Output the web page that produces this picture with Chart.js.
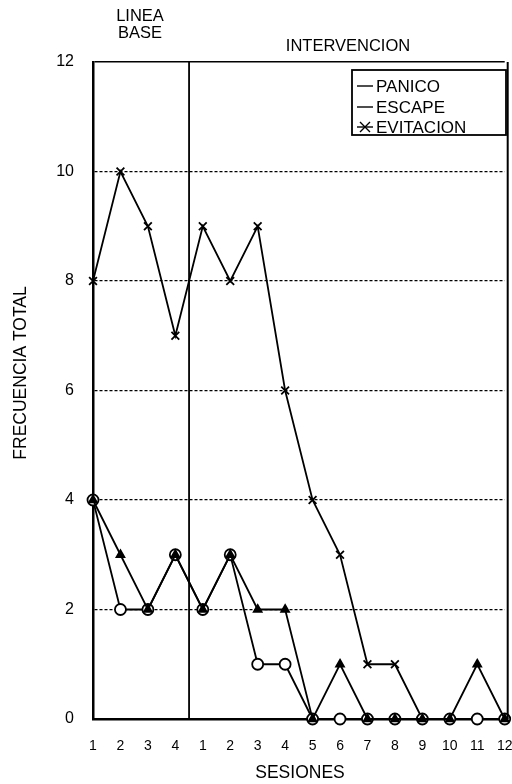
<!DOCTYPE html>
<html>
<head>
<meta charset="utf-8">
<script src="https://cdn.jsdelivr.net/npm/chart.js@4/dist/chart.umd.min.js"></script>
<style>
  html, body { margin: 0; padding: 0; background: #fff; }
  #wrap { width: 512px; height: 784px; }
</style>
</head>
<body>
<div id="wrap"><canvas id="chart" width="512" height="784"></canvas></div>
<script>
// sesiones: 4 de linea base + 12 de intervencion
const sessionLabels = ["1", "2", "3", "4", "1", "2", "3", "4", "5", "6", "7", "8", "9", "10", "11", "12"];
const panico = [4, 2, 2, 3, 2, 3, 1, 1, 0, 0, 0, 0, 0, 0, 0, 0];
const escape = [4, 3, 2, 3, 2, 3, 2, 2, 0, 1, 0, 0, 0, 0, 1, 0];
const evitacion = [8, 10, 9, 7, 9, 8, 9, 6, 4, 3, 1, 1, 0, 0, 0, 0];
const yTicks = [0, 2, 4, 6, 8, 10, 12];
const baselineCount = 4;

const FONT = "'Liberation Sans', Arial, sans-serif";

/* extra drawing: phase line, right border, phase titles, axis titles, legend */
const extras = {
	id: "extras",
	afterDatasetsDraw(chart) {
		const ctx = chart.ctx;
		const area = chart.chartArea;
		const x = chart.scales.x;
		ctx.save();
		ctx.strokeStyle = "#000";
		ctx.fillStyle = "#000";

		// phase change line
		const phaseX = (x.getPixelForValue(baselineCount - 1) + x.getPixelForValue(baselineCount)) / 2;
		ctx.lineWidth = 1.8;
		ctx.beginPath();
		ctx.moveTo(phaseX, area.top);
		ctx.lineTo(phaseX, area.bottom);
		ctx.stroke();

		// right border
		ctx.lineWidth = 2;
		ctx.beginPath();
		ctx.moveTo(area.right + 3, area.top);
		ctx.lineTo(area.right + 3, area.bottom);
		ctx.stroke();

		// phase titles
		ctx.textAlign = "center";
		ctx.textBaseline = "middle";
		ctx.font = "16.5px " + FONT;
		ctx.fillText("LINEA", 140, 16);
		ctx.fillText("BASE", 140, 33);
		ctx.fillText("INTERVENCION", 348, 46);

		// axis titles
		ctx.font = "17.5px " + FONT;
		ctx.fillText("SESIONES", 300, 773);
		ctx.save();
		ctx.translate(21, 373);
		ctx.rotate(-Math.PI / 2);
		ctx.fillText("FRECUENCIA TOTAL", 0, 0);
		ctx.restore();

		// legend box
		const lx = 352, ly = 70, lw = 154, lh = 65;
		ctx.fillStyle = "#fff";
		ctx.fillRect(lx, ly, lw, lh);
		ctx.fillStyle = "#000";
		ctx.lineWidth = 1.8;
		ctx.strokeRect(lx, ly, lw, lh);
		ctx.textAlign = "left";
		ctx.font = "17px " + FONT;
		const rows = [["PANICO", 86], ["ESCAPE", 107], ["EVITACION", 127]];
		rows.forEach(([label, ry], i) => {
			ctx.lineWidth = 1.4;
			ctx.beginPath();
			ctx.moveTo(lx + 5, ry);
			ctx.lineTo(lx + 21, ry);
			ctx.stroke();
			if (i === 2) {
				ctx.beginPath();
				ctx.moveTo(lx + 8, ry - 5);
				ctx.lineTo(lx + 18, ry + 5);
				ctx.moveTo(lx + 18, ry - 5);
				ctx.lineTo(lx + 8, ry + 5);
				ctx.stroke();
			}
			ctx.fillText(label, lx + 24, ry + 1);
		});
		ctx.restore();
	}
};

new Chart(document.getElementById("chart"), {
	type: "line",
	data: {
		labels: sessionLabels,
		datasets: [
			{
				label: "PANICO",
				data: panico,
				borderColor: "#000",
				borderWidth: 1.8,
				pointStyle: "circle",
				pointRadius: 5.5,
				pointBorderWidth: 1.8,
				pointBackgroundColor: "#fff",
				pointBorderColor: "#000",
				tension: 0,
				clip: false,
				order: 1
			},
			{
				label: "ESCAPE",
				data: escape,
				borderColor: "#000",
				borderWidth: 1.8,
				pointStyle: "triangle",
				pointRadius: 4.5,
				pointBackgroundColor: "#000",
				pointBorderColor: "#000",
				tension: 0,
				clip: false,
				order: 0
			},
			{
				label: "EVITACION",
				data: evitacion,
				borderColor: "#000",
				borderWidth: 1.8,
				pointStyle: "crossRot",
				pointRadius: 5.5,
				pointBorderWidth: 1.8,
				pointBorderColor: "#000",
				tension: 0,
				clip: false,
				order: 2
			}
		]
	},
	options: {
		responsive: false,
		animation: false,
		layout: { padding: { top: 62, right: 7, left: 0, bottom: 0 } },
		plugins: {
			legend: { display: false },
			tooltip: { enabled: false }
		},
		scales: {
			x: {
				offset: false,
				grid: { display: false, drawTicks: false },
				border: { color: "#000", width: 2.5 },
				ticks: {
					color: "#000",
					font: { family: FONT, size: 14 },
					padding: 19,
					maxRotation: 0,
					autoSkip: false
				},
				afterFit(scale) {
					scale.height = 65;
					scale.paddingLeft = 0;
					scale.paddingRight = 0;
				}
			},
			y: {
				min: 0,
				max: 12,
				afterBuildTicks(scale) { scale.ticks = yTicks.map(v => ({ value: v })); },
				grid: {
					color: "#000",
					lineWidth: ctx => (ctx.tick && ctx.tick.value === 12 ? 1.5 : 1.3),
					drawTicks: false
				},
				border: {
					color: "#000",
					width: 2.5,
					dash: ctx => (ctx.tick && ctx.tick.value === 12 ? [] : [3, 2])
				},
				ticks: {
					color: "#000",
					font: { family: FONT, size: 16 },
					padding: 19
				},
				afterFit(scale) { scale.width = 93; }
			}
		}
	},
	plugins: [extras]
});
</script>
</body>
</html>
